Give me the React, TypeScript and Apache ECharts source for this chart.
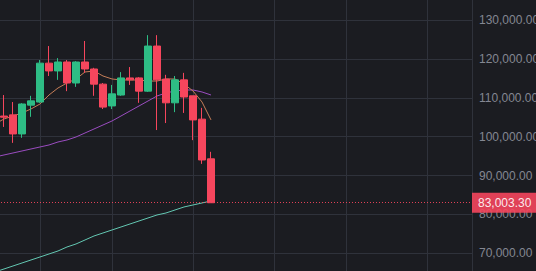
import React, { useEffect, useRef } from "react";
import * as echarts from "echarts";

// Candles (one leading empty slot off-screen, then 24 visible candles)
const opens = [105300, 105600, 100700, 108100, 108900, 118900, 116900, 119200, 113800, 119200, 117400, 113500, 107900, 110700, 115100, 115100, 111700, 123300, 114800, 108700, 114600, 110500, 104500, 94300];
const closes = [105000, 100700, 108400, 109200, 118900, 116900, 119200, 113800, 119200, 117400, 113500, 107600, 111000, 115100, 114600, 111700, 123300, 114600, 108700, 114600, 110200, 104300, 94000, 83003.3];
const lows = [102500, 98400, 99700, 105100, 108700, 115600, 114600, 111700, 112800, 116400, 110500, 107100, 107100, 110500, 113300, 108700, 111500, 101700, 103500, 106300, 106100, 99100, 93000, 83003.3];
const highs = [110700, 108900, 108600, 110500, 119700, 123300, 120200, 119700, 119400, 124600, 117700, 113800, 113300, 116600, 117900, 115300, 126100, 126100, 115900, 115600, 116400, 110500, 107400, 96100];

// Moving averages (first value is the off-screen slot)
const maShort = [103257, 104543, 105314, 106086, 107114, 108400, 110714, 112514, 113800, 114829, 116629, 116886, 115600, 114829, 114571, 114571, 114571, 114300, 114300, 114829, 114829, 113543, 111743, 108914, 104300];
const maMid = [94771, 95286, 95800, 96314, 96829, 97343, 97857, 98629, 99143, 99914, 100943, 101971, 103000, 104029, 105314, 106600, 107886, 109171, 110457, 111229, 111743, 112000, 112000, 111486, 110714];
const maLong = [65200, 65971, 66743, 67514, 68286, 69057, 69829, 70600, 71629, 72400, 73429, 74457, 75229, 76000, 76771, 77543, 78314, 79086, 79857, 80371, 81143, 81914, 82429, 82943, 83457];

const lastPrice = 83003.3;
const categoryCount = 54;
const categories = Array.from({ length: categoryCount }, (_, i) => String(i));
const verticalGridAt = [5, 13, 22, 31, 39, 48];

const UP = "#2ebd85";
const DOWN = "#f6465d";
const GRID = "#2f323b";

function fmt(v: number): string {
  const fixed = v.toFixed(2);
  const [intPart, dec] = fixed.split(".");
  return intPart.replace(/\B(?=(\d{3})+(?!\d))/g, ",") + "." + dec;
}

export default function App() {
  const ref = useRef<HTMLDivElement>(null);
  useEffect(() => {
    if (!ref.current) return;
    const chart = echarts.init(ref.current, undefined, { renderer: "svg" });
    const candleData: any[] = [["-", "-", "-", "-"]];
    for (let i = 0; i < opens.length; i++) {
      candleData.push([opens[i], closes[i], lows[i], highs[i]]);
    }
    const vset = new Set(verticalGridAt);
    chart.setOption({
      animation: false,
      backgroundColor: "#1b1c21",
      grid: {
        left: -5,
        right: 64,
        top: -18.9,
        bottom: -21.2,
        containLabel: false,
        outerBoundsMode: "none",
      },
      xAxis: {
        type: "category",
        data: categories,
        boundaryGap: false,
        axisLine: { show: false },
        axisTick: { show: false },
        axisLabel: { show: false },
        splitLine: {
          show: true,
          interval: (idx: number) => vset.has(idx),
          lineStyle: { color: GRID, width: 1 },
        },
      },
      yAxis: {
        type: "value",
        position: "right",
        min: 60000,
        max: 140000,
        interval: 10000,
        axisLine: { show: true, lineStyle: { color: GRID } },
        axisTick: { show: false },
        splitLine: { show: true, lineStyle: { color: GRID, width: 1 } },
        axisLabel: {
          color: "#848792",
          fontSize: 12,
          fontFamily: "Liberation Sans, Arial, sans-serif",
          margin: 7,
          formatter: (v: number) => fmt(v),
        },
      },
      series: [
        {
          type: "line",
          data: maLong,
          showSymbol: false,
          symbol: "none",
          lineStyle: { color: "#63c7b2", width: 1 },
          z: 3,
        },
        {
          type: "line",
          data: maMid,
          showSymbol: false,
          symbol: "none",
          lineStyle: { color: "#9a4cc0", width: 1 },
          z: 3,
        },
        {
          type: "line",
          data: maShort,
          showSymbol: false,
          symbol: "none",
          lineStyle: { color: "#c47d57", width: 1 },
          z: 3,
        },
        {
          type: "candlestick",
          data: candleData,
          barWidth: 7,
          z: 4,
          itemStyle: {
            color: UP,
            color0: DOWN,
            borderColor: UP,
            borderColor0: DOWN,
            borderWidth: 1,
          },
          markLine: {
            symbol: ["none", "none"],
            silent: true,
            data: [{ yAxis: lastPrice }],
            lineStyle: { color: DOWN, type: [1, 2], width: 1, opacity: 0.9 },
            label: {
              show: true,
              position: "end",
              distance: 0,
              formatter: () => fmt(lastPrice),
              color: "#ffffff",
              backgroundColor: DOWN,
              fontSize: 12,
              fontFamily: "Liberation Sans, Arial, sans-serif",
              lineHeight: 14,
              padding: [3, 6, 3, 6],
            },
          },
        },
      ],
    });
    return () => chart.dispose();
  }, []);
  return (
    <div
      ref={ref}
      style={{ position: "fixed", left: 0, top: 0, width: 536, height: 271 }}
    />
  );
}
